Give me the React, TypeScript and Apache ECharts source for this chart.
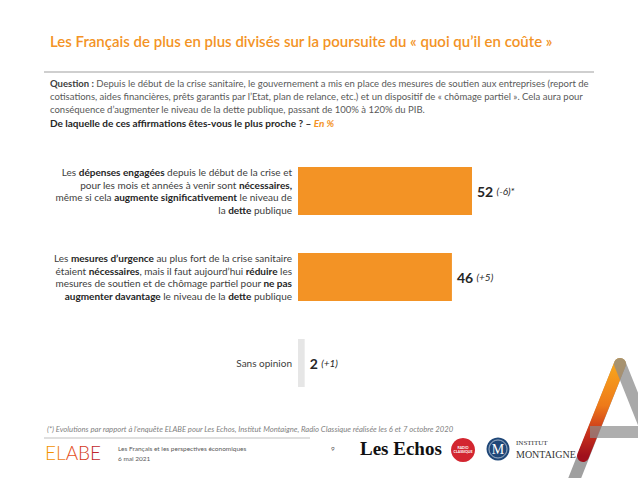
import React, { useEffect, useRef } from "react";
import * as echarts from "echarts";

const categories: string[] = [
  "Les {b|dépenses engagées} depuis le début de la crise et\npour les mois et années à venir sont {b|nécessaires,}\nmême si cela {b|augmente significativement} le niveau de\nla {b|dette} publique",
  "Les {b|mesures d’urgence} au plus fort de la crise sanitaire\nétaient {b|nécessaires}, mais il faut aujourd’hui {b|réduire} les\nmesures de soutien et de chômage partiel pour {b|ne pas}\n{b|augmenter davantage} le niveau de la {b|dette} publique",
  "Sans opinion",
];
const values: number[] = [52, 46, 2];
const evolutions: string[] = ["(-6)*", "(+5)", "(+1)"];

const titleText = "Les Français de plus en plus divisés sur la poursuite du « quoi qu’il en coûte »";
const questionLines: string[] = [
  "{q|Question :} Depuis le début de la crise sanitaire, le gouvernement a mis en place des mesures de soutien aux entreprises (report de",
  "cotisations, aides financières, prêts garantis par l’Etat, plan de relance, etc.) et un dispositif de « chômage partiel ». Cela aura pour",
  "conséquence d’augmenter le niveau de la dette publique, passant de 100% à 120% du PIB.",
];
const questionPrompt = "{p|De laquelle de ces affirmations êtes-vous le plus proche ? – }{o|En %}";
const footnote =
  "(*) Evolutions par rapport à l’enquête ELABE pour Les Echos, Institut Montaigne, Radio Classique réalisée les 6 et 7 octobre 2020";
const footerTitle = "Les Français et les perspectives économiques";
const footerDate = "6 mai 2021";
const pageNumber = "9";

const ORANGE = "#F39325";
const FONT = "Lato";

export default function App() {
  const ref = useRef<HTMLDivElement>(null);
  useEffect(() => {
    if (!ref.current) return;
    const chart = echarts.init(ref.current, null, { renderer: "svg" });
    const QS = 9.5;
    chart.setOption({
      animation: false,
      backgroundColor: "#ffffff",
      grid: { left: 298, right: 5.4, top: 148, height: 258 },
      xAxis: {
        type: "value",
        min: 0,
        max: 100,
        show: false,
      },
      yAxis: {
        type: "category",
        inverse: true,
        data: categories,
        axisLine: { show: false },
        axisTick: { show: false },
        splitLine: { show: false },
        axisLabel: {
          margin: 6,
          fontFamily: FONT,
          fontSize: 10,
          color: "#404040",
          lineHeight: 12.8,
          align: "right",
          rich: {
            b: { fontFamily: FONT, fontSize: 10, fontWeight: "bold", color: "#262626", lineHeight: 12.8 },
          },
        },
      },
      series: [
        {
          type: "bar",
          barWidth: 48,
          data: values.map((v, i) => ({
            value: v,
            itemStyle: { color: i === 2 ? "#E6E6E6" : ORANGE },
          })),
          label: {
            show: true,
            position: "right",
            distance: 5,
            formatter: (p: any) => `{v|${p.value}} {e|${evolutions[p.dataIndex]}}`,
            rich: {
              v: { fontFamily: FONT, fontSize: 14, fontWeight: "bold", color: "#262626" },
              e: { fontFamily: FONT, fontSize: 10, fontStyle: "italic", color: "#262626" },
            },
          },
        },
      ],
      graphic: [
        {
          type: "text",
          left: 50,
          top: 33,
          style: { text: titleText, fontFamily: FONT, fontSize: 15, fontWeight: 600, fill: ORANGE },
        },
        {
          type: "line",
          shape: { x1: 44, y1: 72, x2: 594, y2: 72 },
          style: { stroke: "#BFBFBF", lineWidth: 1.5 },
        },
        ...questionLines.map((t, i) => ({
          type: "text",
          left: 50,
          top: 78 + i * 13,
          style: {
            text: t,
            fontFamily: FONT,
            fontSize: QS,
            fill: "#595959",
            rich: { q: { fontFamily: FONT, fontSize: QS, fontWeight: "bold", fill: "#404040" } },
          },
        })),
        {
          type: "text",
          left: 50,
          top: 118,
          style: {
            text: questionPrompt,
            fontFamily: FONT,
            fontSize: 10,
            rich: {
              p: { fontFamily: FONT, fontSize: 10, fontWeight: "bold", fill: "#262626" },
              o: { fontFamily: FONT, fontSize: 10, fontWeight: "bold", fontStyle: "italic", fill: ORANGE },
            },
          },
        },
        {
          type: "text",
          left: 47,
          top: 425,
          style: { text: footnote, fontFamily: FONT, fontSize: 7.7, fontStyle: "italic", fill: "#7F7F7F" },
        },
        {
          type: "line",
          shape: { x1: 44, y1: 438, x2: 310, y2: 438 },
          style: { stroke: "#BFBFBF", lineWidth: 1 },
        },
        {
          type: "text",
          left: 45,
          top: 443,
          style: {
            text: "{a|E}{b|L}{c|A}{d|B}{e|E}",
            rich: {
              a: { fontFamily: FONT, fontSize: 19, fontWeight: 300, fill: "#F39200" },
              b: { fontFamily: FONT, fontSize: 19, fontWeight: 300, fill: "#EE7D1A" },
              c: { fontFamily: FONT, fontSize: 19, fontWeight: 300, fill: "#E4501E" },
              d: { fontFamily: FONT, fontSize: 19, fontWeight: 300, fill: "#D43A22" },
              e: { fontFamily: FONT, fontSize: 19, fontWeight: 300, fill: "#C0282D" },
            },
          },
        },
        {
          type: "text",
          left: 118,
          top: 445,
          style: { text: footerTitle, fontFamily: FONT, fontSize: 6.5, fill: "#595959" },
        },
        {
          type: "text",
          left: 118,
          top: 455,
          style: { text: footerDate, fontFamily: FONT, fontSize: 6.5, fill: "#595959" },
        },
        {
          type: "text",
          left: 331,
          top: 445,
          style: { text: pageNumber, fontFamily: FONT, fontSize: 6.5, fill: "#595959" },
        },
        {
          type: "text",
          left: 360,
          top: 439,
          style: { text: "Les Echos", fontFamily: "Liberation Serif", fontSize: 19, fontWeight: "bold", fill: "#111111" },
        },
        {
          type: "circle",
          shape: { cx: 463, cy: 450, r: 12 },
          style: { fill: "#D32630" },
        },
        {
          type: "text",
          x: 463,
          y: 450,
          style: {
            text: "RADIO\nCLASSIQUE",
            fontFamily: FONT,
            fontSize: 3.5,
            fontWeight: "bold",
            fill: "#ffffff",
            align: "center",
            verticalAlign: "middle",
          },
        },
        {
          type: "circle",
          shape: { cx: 498, cy: 449, r: 11.5 },
          style: { fill: "#1F4778" },
        },
        {
          type: "circle",
          shape: { cx: 498, cy: 449, r: 9 },
          style: { fill: "none", stroke: "#ffffff", lineWidth: 0.6 },
        },
        {
          type: "text",
          x: 498,
          y: 449.5,
          style: {
            text: "M",
            fontFamily: "Liberation Serif",
            fontSize: 14,
            fill: "#ffffff",
            align: "center",
            verticalAlign: "middle",
          },
        },
        {
          type: "text",
          left: 516,
          top: 439,
          style: { text: "INSTITUT", fontFamily: "Liberation Serif", fontSize: 7, fill: "#333333" },
        },
        {
          type: "text",
          left: 516,
          top: 449,
          style: { text: "MONTAIGNE", fontFamily: "Liberation Serif", fontSize: 10, fill: "#333333" },
        },
        // decorative "A"
        {
          type: "line",
          shape: { x1: 620, y1: 364, x2: 566, y2: 500 },
          style: { stroke: "#A0A0A0", lineWidth: 12, lineCap: "round" },
        },
        {
          type: "line",
          shape: { x1: 620, y1: 364, x2: 583, y2: 456 },
          style: {
            lineWidth: 12,
            lineCap: "round",
            stroke: {
              type: "linear",
              x: 0,
              y: 0,
              x2: 0,
              y2: 1,
              colorStops: [
                { offset: 0, color: "#F8A61C" },
                { offset: 0.45, color: "#EE7A1A" },
                { offset: 0.75, color: "#C8321C" },
                { offset: 1, color: "#A0101C" },
              ],
            },
          },
        },
        {
          type: "line",
          shape: { x1: 620, y1: 364, x2: 668, y2: 484 },
          style: { stroke: "#8C8C8C", lineWidth: 12, lineCap: "round", opacity: 0.75 },
        },
        {
          type: "rect",
          shape: { x: 590, y: 426, width: 60, height: 12 },
          style: { fill: "#8C8C8C", opacity: 0.7 },
        },
      ],
    });
    return () => chart.dispose();
  }, []);
  return (
    <div
      ref={ref}
      style={{ position: "absolute", left: 0, top: 0, width: 638, height: 478 }}
    />
  );
}
